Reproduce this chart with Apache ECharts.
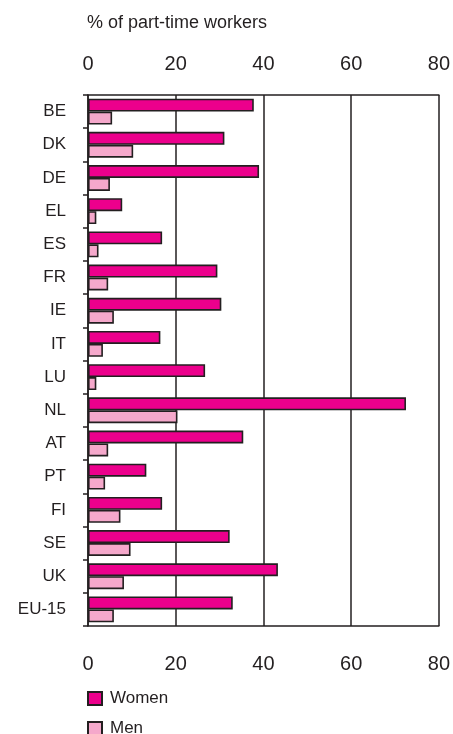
<!DOCTYPE html>
<html>
<head>
<meta charset="utf-8">
<script src="https://cdn.jsdelivr.net/npm/echarts@6/dist/echarts.min.js"></script>
<style>
html,body{margin:0;padding:0;background:#fff;}
#chart{width:453px;height:734px;}
</style>
</head>
<body>
<div id="chart"></div>
<script>
const categories = ['BE','DK','DE','EL','ES','FR','IE','IT','LU','NL','AT','PT','FI','SE','UK','EU-15'];
const women = [37.8, 31.1, 39.0, 7.8, 16.9, 29.5, 30.4, 16.5, 26.7, 72.5, 35.4, 13.3, 16.9, 32.3, 43.3, 33.0];
const men   = [5.5, 10.3, 5.0, 1.9, 2.4, 4.6, 5.9, 3.4, 1.9, 20.4, 4.6, 3.9, 7.4, 9.7, 8.2, 5.9];
const xTicks = [0, 20, 40, 60, 80];
const titleText = '% of part-time workers';

const FONT = 'Liberation Sans, Arial, Helvetica, sans-serif';
const INK = '#231f20';

const chart = echarts.init(document.getElementById('chart'), null, {renderer: 'canvas'});

function xAxisCfg(pos, margin) {
  return {
    type: 'value',
    position: pos,
    min: xTicks[0],
    max: xTicks[xTicks.length - 1],
    interval: xTicks[1] - xTicks[0],
    axisLine: {show: true, lineStyle: {color: INK, width: 1.5}},
    axisTick: {show: false},
    axisLabel: {show: true, color: INK, fontSize: 20, fontFamily: FONT, margin: margin},
    splitLine: {show: pos === 'bottom', lineStyle: {color: INK, width: 1.5}}
  };
}

chart.setOption({
  animation: false,
  backgroundColor: '#fff',
  title: {
    text: titleText,
    left: 82, top: 9,
    textStyle: {color: INK, fontSize: 18, fontWeight: 'normal', fontFamily: FONT}
  },
  grid: {left: 88, right: 14, top: 95, bottom: 108, containLabel: false},
  xAxis: [xAxisCfg('bottom', 28), xAxisCfg('top', 21)],
  yAxis: {
    type: 'category',
    data: categories,
    inverse: true,
    axisLine: {show: true, lineStyle: {color: INK, width: 1.5}},
    axisTick: {show: true, length: 5, lineStyle: {color: INK, width: 1.5}},
    axisLabel: {color: INK, fontSize: 17, fontFamily: FONT, margin: 22},
    splitLine: {show: false}
  },
  legend: {
    orient: 'vertical',
    left: 87, top: 690, height: 80,
    padding: 0,
    itemWidth: 14, itemHeight: 13, itemGap: 13,
    icon: 'rect',
    textStyle: {color: INK, fontSize: 17, lineHeight: 17, fontFamily: FONT, padding: [0, 0, 0, 3]},
    data: ['Women', 'Men']
  },
  series: [
    {
      name: 'Women', type: 'bar', data: women,
      barGap: '0%', barCategoryGap: '22%',
      itemStyle: {color: '#EC008C', borderColor: INK, borderWidth: 1.6}
    },
    {
      name: 'Men', type: 'bar', data: men,
      barGap: '0%', barCategoryGap: '22%',
      itemStyle: {color: '#F5A8CB', borderColor: INK, borderWidth: 1.6}
    }
  ]
});
</script>
</body>
</html>
